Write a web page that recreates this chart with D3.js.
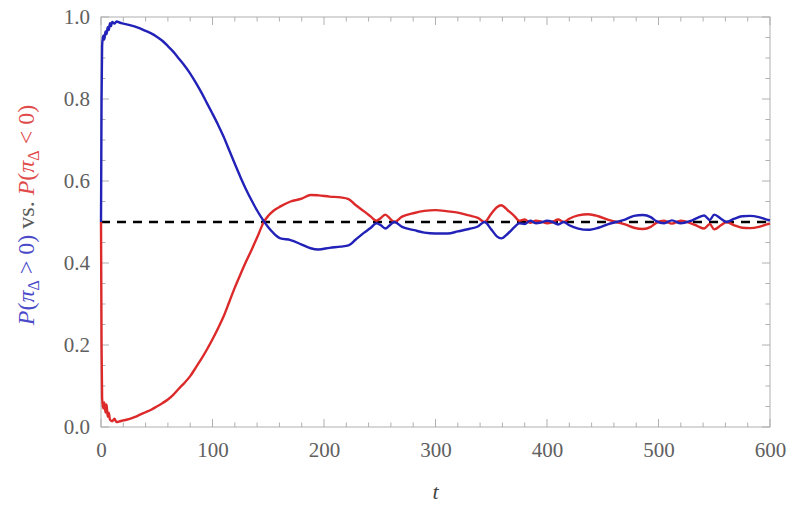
<!DOCTYPE html>
<html>
<head>
<meta charset="utf-8">
<script src="https://cdn.jsdelivr.net/npm/d3@7"></script>
<style>
  body { margin: 0; background: #fff; }
  svg { display: block; }
  .serif { font-family: "Liberation Serif", "DejaVu Serif", "Noto Serif", "Times New Roman", Times, serif; }
</style>
</head>
<body>
<svg id="chart" width="800" height="505"></svg>
<script>
// ---- data ----
const tBlue = [0,0.5,1,2,3,4,5,6,7,8,9,10,12,14,17,20,25,30,35,40,45,50,55,60,65,70,75,80,85,90,95,100,105,110,115,120,125,130,135,140,146,150,155,161,170,180,188,195,205,215,222,228,236,242,247,251,255,259,263,270,281,290,300,311,320,330,338,344,350,355,359,365,371,375,380,385,390,395,400,405,410,415,420,428,437,446,455,462,470,478,486,493,498,505,512,520,528,535,541,546,550,556,561,568,575,582,590,597,600];
const pPositive = [0.50,0.80,0.93,0.955,0.945,0.965,0.958,0.975,0.968,0.985,0.978,0.988,0.984,0.989,0.986,0.984,0.981,0.977,0.972,0.966,0.960,0.952,0.942,0.929,0.915,0.898,0.881,0.862,0.840,0.816,0.790,0.764,0.737,0.708,0.675,0.642,0.610,0.580,0.553,0.528,0.502,0.487,0.472,0.460,0.456,0.445,0.436,0.433,0.437,0.440,0.443,0.456,0.474,0.486,0.497,0.492,0.484,0.492,0.500,0.488,0.480,0.474,0.472,0.472,0.477,0.483,0.489,0.500,0.482,0.465,0.460,0.472,0.488,0.497,0.495,0.503,0.497,0.499,0.503,0.500,0.494,0.500,0.492,0.484,0.481,0.486,0.495,0.500,0.506,0.515,0.517,0.512,0.502,0.497,0.504,0.497,0.502,0.510,0.516,0.505,0.518,0.508,0.500,0.508,0.514,0.515,0.512,0.506,0.504];
const tRed = [0,0.5,1,2,3,4,5,6,7,8,10,12,14,17,20,25,30,35,40,45,50,55,60,65,70,75,80,85,90,95,100,105,110,115,120,125,130,135,140,146,150,155,161,170,180,188,195,205,215,222,228,236,242,247,251,255,259,263,270,281,290,300,311,320,330,338,344,350,355,359,365,371,375,380,385,390,395,400,405,410,415,420,428,437,446,455,462,470,478,486,493,498,505,512,520,528,535,541,546,550,556,561,568,575,582,590,597,600];
const pNegative = [0.50,0.20,0.07,0.045,0.06,0.035,0.055,0.025,0.035,0.018,0.014,0.020,0.012,0.014,0.016,0.019,0.024,0.030,0.036,0.042,0.050,0.058,0.067,0.079,0.094,0.108,0.124,0.145,0.166,0.189,0.214,0.241,0.270,0.305,0.340,0.372,0.403,0.432,0.462,0.500,0.515,0.528,0.538,0.550,0.557,0.566,0.565,0.562,0.560,0.556,0.542,0.526,0.513,0.503,0.510,0.518,0.509,0.500,0.513,0.522,0.527,0.529,0.526,0.523,0.516,0.510,0.500,0.520,0.536,0.541,0.528,0.514,0.503,0.506,0.498,0.503,0.501,0.497,0.500,0.506,0.500,0.508,0.516,0.519,0.514,0.505,0.500,0.494,0.486,0.483,0.488,0.498,0.503,0.496,0.503,0.498,0.490,0.484,0.495,0.482,0.492,0.500,0.492,0.486,0.485,0.488,0.494,0.496];
const referenceLevel = [0.5];
const xTickValues = [0,100,200,300,400,500,600];
const xTickLabels = ["0","100","200","300","400","500","600"];
const yTickValues = [0,0.2,0.4,0.6,0.8,1.0];
const yTickLabels = ["0.0","0.2","0.4","0.6","0.8","1.0"];

// ---- layout ----
const L = 101, R = 770, T = 17, B = 427;
const svg = d3.select("#chart");
const x = d3.scaleLinear().domain([0, 600]).range([L, R]);
const y = d3.scaleLinear().domain([0, 1]).range([B, T]);

const frameColor = "#b0b0b0";
const labelColor = "#606060";

// frame
svg.append("rect").attr("x", L).attr("y", T).attr("width", R - L).attr("height", B - T)
  .attr("fill", "none").attr("stroke", frameColor).attr("stroke-width", 1);

// ticks (inward, all four sides)
const xMinor = d3.range(0, 601, 20).filter(v => v % 100 !== 0);
const yMinor = d3.range(0, 1.0001, 0.05).filter(v => Math.abs(v * 5 - Math.round(v * 5)) > 1e-6);
const tickG = svg.append("g").attr("stroke", frameColor).attr("stroke-width", 1);
function xt(vals, len) {
  vals.forEach(v => {
    tickG.append("line").attr("x1", x(v)).attr("x2", x(v)).attr("y1", B).attr("y2", B - len);
    tickG.append("line").attr("x1", x(v)).attr("x2", x(v)).attr("y1", T).attr("y2", T + len);
  });
}
function yt(vals, len) {
  vals.forEach(v => {
    tickG.append("line").attr("y1", y(v)).attr("y2", y(v)).attr("x1", L).attr("x2", L + len);
    tickG.append("line").attr("y1", y(v)).attr("y2", y(v)).attr("x1", R).attr("x2", R - len);
  });
}
xt(xTickValues, 8); xt(xMinor, 4.5);
yt(yTickValues, 8); yt(yMinor, 4.5);

// tick labels via d3 axes (no lines)
const xAxis = d3.axisBottom(x).tickValues(xTickValues).tickFormat((d, i) => xTickLabels[i]).tickSize(0).tickPadding(15);
const gx = svg.append("g").attr("transform", `translate(0,${B})`).call(xAxis);
const yAxis = d3.axisLeft(y).tickValues(yTickValues).tickFormat((d, i) => yTickLabels[i]).tickSize(0).tickPadding(11);
const gy = svg.append("g").attr("transform", `translate(${L},0)`).call(yAxis);
[gx, gy].forEach(g => {
  g.select(".domain").remove();
  g.attr("font-family", null).attr("font-size", null).classed("serif", true);
  g.selectAll("text").attr("fill", labelColor).attr("class", "serif").style("font-size", "21px");
});

// reference dashed line
svg.append("line").attr("x1", x(0)).attr("x2", x(600))
  .attr("y1", y(referenceLevel[0])).attr("y2", y(referenceLevel[0]))
  .attr("stroke", "#000").attr("stroke-width", 2.6).attr("stroke-dasharray", "9,7");

// curves
const line = d3.line().x(d => x(d[0])).y(d => y(d[1])).curve(d3.curveMonotoneX);
svg.append("path").datum(tRed.map((t, i) => [t, pNegative[i]]))
  .attr("d", line).attr("fill", "none").attr("stroke", "#dc2a2a").attr("stroke-width", 2.4)
  .attr("stroke-linejoin", "round");
svg.append("path").datum(tBlue.map((t, i) => [t, pPositive[i]]))
  .attr("d", line).attr("fill", "none").attr("stroke", "#2222b8").attr("stroke-width", 2.4)
  .attr("stroke-linejoin", "round");

// x title
svg.append("text").attr("class", "serif").attr("x", (L + R) / 2).attr("y", 499).attr("text-anchor", "middle")
  .style("font-style", "italic").style("font-size", "22px")
  .attr("fill", "#444").text("t");

// y title
const ytl = svg.append("text").attr("class", "serif").attr("transform", `translate(34,215) rotate(-90)`)
  .attr("text-anchor", "middle").style("font-size", "24px");
function addP(color, rel) {
  ytl.append("tspan").attr("fill", color).style("font-style", "italic").text("P");
  ytl.append("tspan").attr("fill", color).text("(");
  ytl.append("tspan").attr("fill", color).style("font-style", "italic").text("π");
  ytl.append("tspan").attr("fill", color).attr("dy", 5).style("font-size", "16px").text("Δ");
  ytl.append("tspan").attr("fill", color).attr("dy", -5).text(" " + rel + " 0)");
}
addP("#4a4ac8", ">");
ytl.append("tspan").attr("fill", "#5a5a5a").text("  vs.  ");
addP("#e04a4a", "<");
</script>
</body>
</html>
